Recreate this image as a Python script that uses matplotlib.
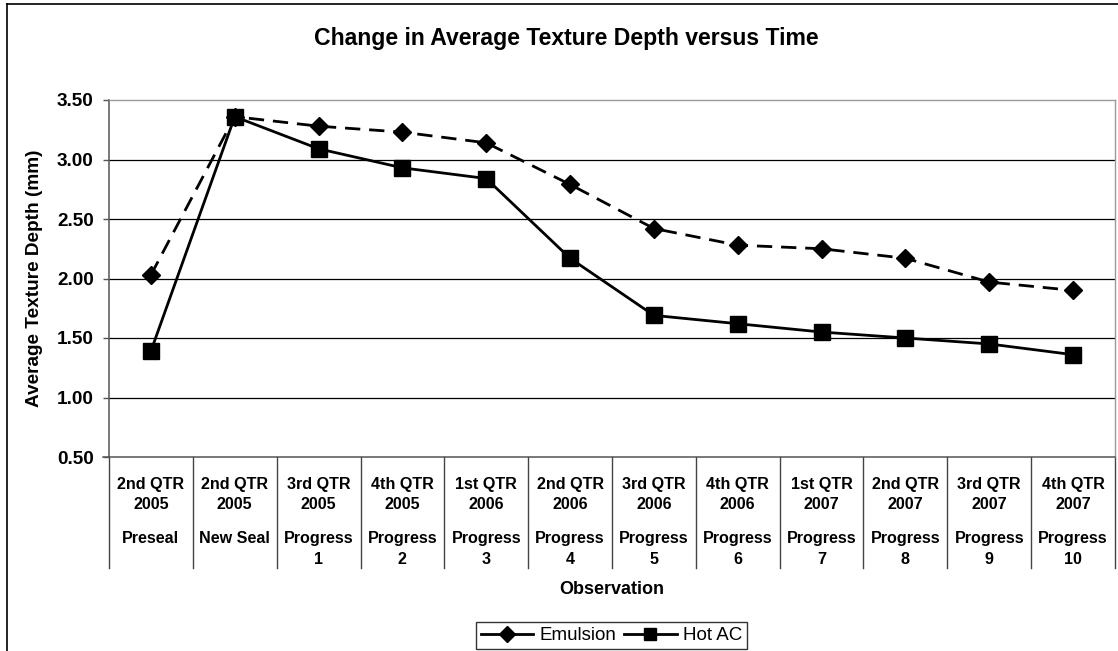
import matplotlib
matplotlib.use("Agg")
import matplotlib.pyplot as plt
from matplotlib.lines import Line2D

plt.rcParams['font.family'] = ['Liberation Sans', 'DejaVu Sans']

# ---- data ----
quarters = ["2nd QTR", "2nd QTR", "3rd QTR", "4th QTR", "1st QTR", "2nd QTR",
            "3rd QTR", "4th QTR", "1st QTR", "2nd QTR", "3rd QTR", "4th QTR"]
years = ["2005", "2005", "2005", "2005", "2006", "2006",
         "2006", "2006", "2007", "2007", "2007", "2007"]
phases = ["Preseal", "New Seal", "Progress", "Progress", "Progress", "Progress",
          "Progress", "Progress", "Progress", "Progress", "Progress", "Progress"]
phase_nums = ["", "", "1", "2", "3", "4", "5", "6", "7", "8", "9", "10"]
emulsion = [2.03, 3.36, 3.28, 3.23, 3.14, 2.79, 2.42, 2.28, 2.25, 2.17, 1.97, 1.90]
hot_ac = [1.39, 3.36, 3.09, 2.93, 2.84, 2.17, 1.69, 1.62, 1.55, 1.50, 1.45, 1.36]
yticks = [0.5, 1.0, 1.5, 2.0, 2.5, 3.0, 3.5]

W, H = 1118, 651
fig = plt.figure(figsize=(W / 100, H / 100), dpi=100)
fig.patch.set_facecolor('white')

# plot area in pixels
L, R, T, B = 109, 1115, 100, 457
ax = fig.add_axes([L / W, 1 - B / H, (R - L) / W, (B - T) / H])

x = list(range(len(emulsion)))
ax.plot(x, emulsion, color='black', lw=2.0, ls=(0, (5.5, 3.2)), marker='D',
        markersize=9, markerfacecolor='black', markeredgecolor='black', zorder=4)
ax.plot(x, hot_ac, color='black', lw=2.0, ls='-', marker='s',
        markersize=11, markerfacecolor='black', markeredgecolor='black', zorder=5)

ax.set_xlim(-0.5, len(x) - 0.5)
ax.set_ylim(0.5, 3.5)
ax.set_yticks(yticks)
ax.set_yticklabels([f"{v:.2f}" for v in yticks], fontsize=13.7, fontweight='bold')
ax.set_xticks([])
for v in yticks[1:-1]:
    ax.axhline(v, color='black', lw=0.9, zorder=1)

for side in ['top', 'right']:
    ax.spines[side].set_color('#9a9a9a')
    ax.spines[side].set_linewidth(1.0)
for side in ['left', 'bottom']:
    ax.spines[side].set_color('#555555')
    ax.spines[side].set_linewidth(1.1)
ax.tick_params(axis='y', direction='out', length=4.5, width=1.0, color='#555555', pad=6.5)

# category table below axis
tb = 568
ybot = (B - tb) / (B - T)
xt = ax.get_xaxis_transform()
for k in range(len(x) + 1):
    ax.plot([k - 0.5, k - 0.5], [0, ybot], transform=xt, color='#444444',
            lw=1.0, clip_on=False)
# extend axis line left to tick length
ax.plot([-0.5 - 6 / ((R - L) / len(x)), -0.5], [0, 0], transform=xt,
        color='#555555', lw=1.1, clip_on=False)

def yax(py):
    return (B - py) / (B - T)

for i in x:
    kw = dict(transform=xt, ha='center', va='baseline', fontsize=11.6,
              fontweight='bold', clip_on=False)
    ax.text(i, yax(489), quarters[i], **kw)
    ax.text(i, yax(509), years[i], **kw)
    ax.text(i, yax(543), phases[i], **kw)
    if phase_nums[i]:
        ax.text(i, yax(564), phase_nums[i], **kw)

fig.text((L + R) / 2 / W, 1 - 590 / H, "Observation", ha='center', va='center',
         fontsize=13, fontweight='bold')
fig.text(35 / W, 1 - (T + B) / 2 / H, "Average Texture Depth (mm)", ha='center',
         va='center', rotation=90, fontsize=13.7, fontweight='bold')
fig.text(566 / W, 1 - 38 / H, "Change in Average Texture Depth versus Time",
         ha='center', va='center', fontsize=16.6, fontweight='bold')

handles = [Line2D([], [], color='black', lw=2.0, marker='D', markersize=8),
           Line2D([], [], color='black', lw=2.0, marker='s', markersize=9)]
leg = fig.legend(handles, ["Emulsion", "Hot AC"], loc='center',
                 bbox_to_anchor=(611.5 / W, 1 - 635.5 / H), ncol=2,
                 frameon=True, fancybox=False, edgecolor='black', fontsize=13.5,
                 handlelength=2.8, handletextpad=0.35, columnspacing=0.4,
                 borderpad=0.25, borderaxespad=0)
leg.get_frame().set_linewidth(1.0)

# outer chart border (left and top visible)
fig.add_artist(Line2D([7 / W, 7 / W], [0, 1 - 4 / H], color='black', lw=1.2,
                      transform=fig.transFigure))
fig.add_artist(Line2D([7 / W, 1], [1 - 4 / H, 1 - 4 / H], color='black', lw=1.2,
                      transform=fig.transFigure))

fig.savefig("out.png", dpi=100)
